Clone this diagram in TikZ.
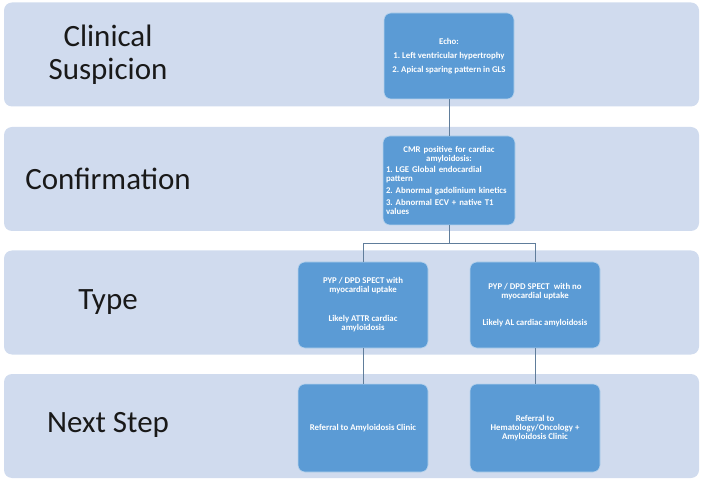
\documentclass[tikz,border=0pt]{standalone}
\usepackage{fontspec}
\setmainfont{Carlito}
\usetikzlibrary{calc}
\definecolor{lanefill}{RGB}{208,219,238}
\definecolor{boxblue}{RGB}{91,155,213}
\definecolor{wirecol}{RGB}{96,125,155}

\begin{document}
\begin{tikzpicture}[x=1pt,y=-1pt,inner sep=1pt,node distance=172pt,
  lane/.style={fill=lanefill,rounded corners=8pt,minimum width=695pt,minimum height=104pt},
  phase/.style={font=\fontsize{31}{33}\selectfont,align=center,text=black!90},
  box/.style={fill=boxblue,draw=white!55!boxblue,line width=.6pt,rounded corners=7pt,minimum width=130pt,minimum height=86pt,text=white,font=\bfseries\fontsize{8.8}{9}\selectfont,align=center},
  wire/.style={draw=wirecol,line width=.8pt}]
\useasboundingbox (0,0) rectangle (704,486);
% lanes
\draw node [lane] (L1) at (351.5,54.5) {};
\draw node [lane] (L2) at (351.5,179) {};
\draw node [lane] (L3) at (351.5,302.5) {};
\draw node [lane] (L4) at (351.5,426) {};
\draw node [phase] (clinical) at (108,55)  {Clinical\\Suspicion};
\draw node [phase] (confirm)  at (108,179) {Confirmation};
\draw node [phase] (type)     at (108,302) {Type};
\draw node [phase] (nextstep) at (108,425) {Next Step};
% boxes
\draw node [box] (echo) at (449,56) {Echo:\\[5pt]1.\ Left ventricular hypertrophy\\[5pt]2.\ Apical sparing pattern in GLS};
\draw node [box,minimum width=132pt,minimum height=89pt,text width=126pt,align=left] [below of=echo,node distance=124.5pt] (cmr)
  {{\centering CMR positive for cardiac\\amyloidosis:\par}\vspace{2pt}1.\ LGE Global endocardial\\pattern\\[3pt]2.\ Abnormal gadolinium kinetics\\[3pt]3.\ Abnormal ECV + native T1\\values};
\draw node [box] (attr) at (363,305) {PYP / DPD SPECT with\\myocardial uptake\\[20pt]Likely ATTR cardiac\\amyloidosis};
\draw node [box] [right of=attr] (al) {PYP / DPD SPECT\ \ with no\\myocardial uptake\\[18pt]Likely AL cardiac amyloidosis};
\draw node [box,minimum height=88pt] [below of=attr,node distance=123pt] (refA) {Referral to Amyloidosis Clinic};
\draw node [box,minimum height=88pt] [right of=refA] (refB) {Referral to\\Hematology/Oncology +\\Amyloidosis Clinic};
% connectors
\coordinate (split) at ($ (cmr.south) + (0,18) $);
\draw [wire] (echo.south) -- (cmr.north);
\draw [wire] (cmr.south) -- (split);
\draw [wire] (attr.north) |- (split) -| (al.north);
\draw [wire] (attr.south) -- (refA.north);
\draw [wire] (al.south) -- (refB.north);
\end{tikzpicture}
\end{document}
